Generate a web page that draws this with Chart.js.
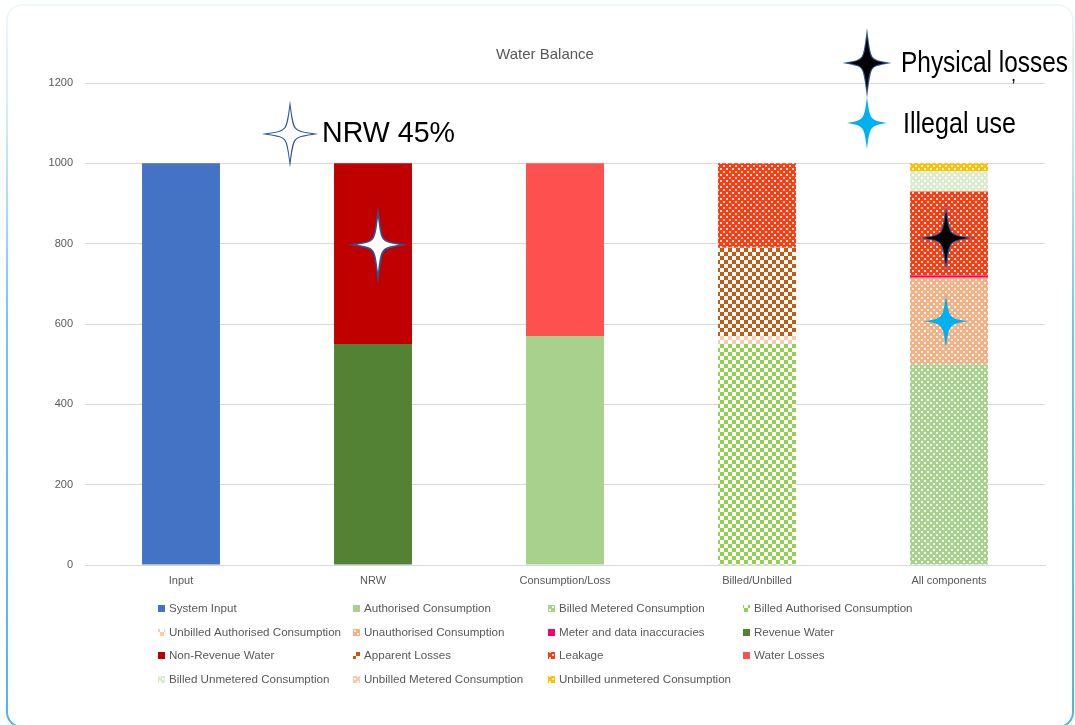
<!DOCTYPE html>
<html>
<head>
<meta charset="utf-8">
<script src="https://cdn.jsdelivr.net/npm/chart.js@4/dist/chart.umd.min.js"></script>
<style>
  html, body { margin: 0; padding: 0; background: #fff; }
  #wrap { position: relative; width: 1075px; height: 725px; overflow: hidden; }
  #frame {
    position: absolute; left: 6px; top: 4px; width: 1068px; height: 724px;
    border-radius: 16px; padding: 2px; box-sizing: border-box;
    background: linear-gradient(to bottom, #eef7fc 0%, #d4ecf8 15%, #6cc5ec 45%, #4fb7e6 100%);
  }
  #frame > div { width: 100%; height: 100%; background: #fff; border-radius: 14px; }
  canvas { position: absolute; left: 0; top: 0; }
</style>
</head>
<body>
<div id="wrap">
  <div id="frame"><div></div></div>
  <canvas id="c" width="1075" height="725"></canvas>
</div>
<script>
// ── data ──
const categories = ["Input", "NRW", "Consumption/Loss", "Billed/Unbilled", "All components"];

const systemInput          = [1000, null, null, null, null];
const authorisedCons       = [null, null, 570, null, null];
const billedMeteredCons    = [null, null, null, null, 500];
const billedAuthorisedCons = [null, null, null, 550, null];
const unbilledAuthorised   = [null, null, null, 20, null];
const unauthorisedCons     = [null, null, null, null, 215];
const meterInaccuracies    = [null, null, null, null, 5];
const revenueWater         = [null, 550, null, null, null];
const nonRevenueWater      = [null, 450, null, null, null];
const apparentLosses       = [null, null, null, 220, null];
const leakage              = [null, null, null, 210, 210];
const waterLosses          = [null, null, 430, null, null];
const billedUnmetered      = [null, null, null, null, 50];
const unbilledMetered      = [null, null, null, null, 0];
const unbilledUnmetered    = [null, null, null, null, 20];

const yTicks = [0, 200, 400, 600, 800, 1000, 1200];

// ── fill patterns (Excel-like) ──
function makePattern(kind, fg, bg) {
  const c = document.createElement("canvas");
  const x = c.getContext("2d");
  if (kind === "checker") {
    c.width = 8; c.height = 8;
    x.fillStyle = bg || "#fff";
    x.fillRect(0, 0, 8, 8);
    x.fillStyle = fg;
    x.fillRect(0, 0, 4, 4);
    x.fillRect(4, 4, 4, 4);
  } else {
    // dotted grid: base colour with small light dots
    c.width = 6; c.height = 6;
    x.fillStyle = fg;
    x.fillRect(0, 0, 6, 6);
    x.fillStyle = "rgba(255,255,255,0.85)";
    x.fillRect(0, 0, 2, 2);
    x.fillRect(3, 3, 2, 2);
  }
  return x.createPattern(c, "repeat");
}

const series = [
  { label: "System Input", data: systemInput, bg: "#4472c4" },
  { label: "Authorised Consumption", data: authorisedCons, bg: "#a9d18e" },
  { label: "Billed Metered Consumption", data: billedMeteredCons, bg: makePattern("dots", "#a9d18e") },
  { label: "Billed Authorised Consumption", data: billedAuthorisedCons, bg: makePattern("checker", "#92d050") },
  { label: "Unbilled Authorised Consumption", data: unbilledAuthorised, bg: makePattern("checker", "#f8cbad") },
  { label: "Unauthorised Consumption", data: unauthorisedCons, bg: makePattern("dots", "#f4b183") },
  { label: "Meter and data inaccuracies", data: meterInaccuracies, bg: "#ff0066" },
  { label: "Revenue Water", data: revenueWater, bg: "#548235" },
  { label: "Non-Revenue Water", data: nonRevenueWater, bg: "#c00000" },
  { label: "Apparent Losses", data: apparentLosses, bg: makePattern("checker", "#c55a11") },
  { label: "Leakage", data: leakage, bg: makePattern("dots", "#ff3c0f") },
  { label: "Water Losses", data: waterLosses, bg: "#ff5050" },
  { label: "Billed Unmetered Consumption", data: billedUnmetered, bg: makePattern("dots", "#dcebd0") },
  { label: "Unbilled Metered Consumption", data: unbilledMetered, bg: makePattern("dots", "#f8cbad") },
  { label: "Unbilled unmetered Consumption", data: unbilledUnmetered, bg: makePattern("dots", "#ffc000") },
];

const GRAY = "#595959";
const FONT = "'Liberation Sans', Arial, sans-serif";

// 4-point star
function star(ctx, cx, cy, w, h, fill, stroke, lw) {
  const k = 3;
  ctx.save();
  ctx.beginPath();
  ctx.moveTo(cx, cy - h);
  ctx.bezierCurveTo(cx + k, cy - k, cx + k, cy - k, cx + w, cy);
  ctx.bezierCurveTo(cx + k, cy + k, cx + k, cy + k, cx, cy + h);
  ctx.bezierCurveTo(cx - k, cy + k, cx - k, cy + k, cx - w, cy);
  ctx.bezierCurveTo(cx - k, cy - k, cx - k, cy - k, cx, cy - h);
  ctx.closePath();
  if (stroke) {
    ctx.lineWidth = lw || 2;
    ctx.strokeStyle = stroke;
    ctx.stroke();
  }
  ctx.fillStyle = fill;
  ctx.fill();
  ctx.restore();
}

// text squeezed to a given width (the original uses a condensed face)
function fitText(ctx, text, x, y, width) {
  const m = ctx.measureText(text).width;
  ctx.save();
  ctx.translate(x, y);
  ctx.scale(width / m, 1);
  ctx.fillText(text, 0, 0);
  ctx.restore();
}

const decor = {
  id: "decor",
  afterDraw(chart) {
    const ctx = chart.ctx;
    const xs = chart.scales.x, ys = chart.scales.y;

    // title
    ctx.save();
    ctx.font = "15px " + FONT;
    ctx.fillStyle = GRAY;
    ctx.textAlign = "center";
    ctx.textBaseline = "middle";
    ctx.fillText("Water Balance", 545, 55);

    // legend: 4 equal columns
    const colX = [161, 356, 551, 746];
    const rowY = [609, 633, 656, 680];
    ctx.font = "11.6px " + FONT;
    ctx.textAlign = "left";
    series.forEach((s, i) => {
      const cx = colX[i % 4], cy = rowY[Math.floor(i / 4)];
      ctx.fillStyle = s.bg;
      ctx.fillRect(cx - 3, cy - 4, 7, 7);
      ctx.fillStyle = GRAY;
      ctx.fillText(s.label, cx + 8, cy);
    });
    ctx.restore();

    // stars on the bars
    star(ctx, xs.getPixelForValue(1) + 5, ys.getPixelForValue(797), 21, 27, "#fff", "#2f5597", 3);
    star(ctx, xs.getPixelForValue(4) - 3, ys.getPixelForValue(814), 22, 27, "#000", "#2f5597", 2);
    star(ctx, xs.getPixelForValue(4) - 3, ys.getPixelForValue(607), 22, 27, "#00b0f0");

    // callouts
    star(ctx, 290, 134, 22, 26, "#fff", "#2f5597", 2);
    star(ctx, 867, 63, 19, 27, "#000", "#2f5597", 2);
    star(ctx, 867, 123, 20, 26, "#00b0f0");

    ctx.save();
    ctx.fillStyle = "#000";
    ctx.textBaseline = "middle";
    ctx.textAlign = "left";
    ctx.font = "29px " + FONT;
    fitText(ctx, "NRW 45%", 322, 134, 133);
    fitText(ctx, "Physical losses", 901, 64, 167);
    fitText(ctx, "Illegal use", 903, 125, 113);
    ctx.font = "18px " + FONT;
    ctx.fillText(",", 1011, 76);
    ctx.restore();
  },
};

new Chart(document.getElementById("c"), {
  type: "bar",
  data: {
    labels: categories,
    datasets: series.map((s) => ({
      label: s.label,
      data: s.data,
      backgroundColor: s.bg,
      borderWidth: 0,
      barPercentage: 0.406,
      categoryPercentage: 1,
    })),
  },
  options: {
    responsive: false,
    animation: false,
    devicePixelRatio: 1,
    layout: { padding: { top: 83, right: 30, left: 0, bottom: 0 } },
    plugins: { legend: { display: false }, tooltip: { enabled: false }, title: { display: false } },
    scales: {
      x: {
        stacked: true,
        grid: { display: false, drawTicks: false },
        border: { color: "#d9d9d9", width: 1 },
        ticks: { color: GRAY, font: { size: 11, family: FONT }, padding: 9 },
        afterFit: (s) => { s.height = 160; },
      },
      y: {
        stacked: true,
        min: 0,
        max: 1200,
        afterBuildTicks: (s) => { s.ticks = yTicks.map((v) => ({ value: v })); },
        grid: { color: "#d9d9d9", drawTicks: false },
        border: { display: false },
        ticks: { color: GRAY, font: { size: 11, family: FONT }, padding: 12, callback: (v) => String(v) },
        afterFit: (s) => { s.width = 85; },
      },
    },
  },
  plugins: [decor],
});
</script>
</body>
</html>
